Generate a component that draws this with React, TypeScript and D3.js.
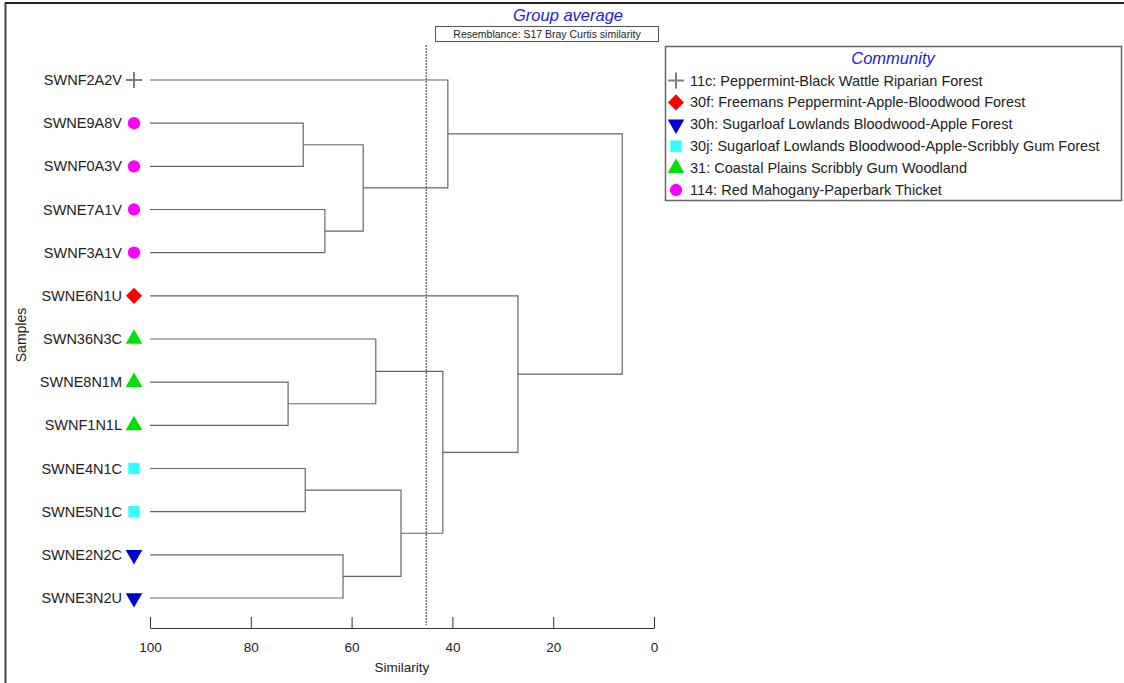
import React, { useEffect, useRef } from "react";
import * as d3 from "d3";

// leaf order, top to bottom
const samples = [
  "SWNF2A2V", "SWNE9A8V", "SWNF0A3V", "SWNE7A1V", "SWNF3A1V", "SWNE6N1U",
  "SWN36N3C", "SWNE8N1M", "SWNF1N1L", "SWNE4N1C", "SWNE5N1C", "SWNE2N2C", "SWNE3N2U",
];
const sampleCommunity = [
  "11c", "114", "114", "114", "114", "30f", "31", "31", "31", "30j", "30j", "30h", "30h",
];

const communities = ["11c", "30f", "30h", "30j", "31", "114"];
const communityNames = [
  "11c: Peppermint-Black Wattle Riparian Forest",
  "30f: Freemans Peppermint-Apple-Bloodwood Forest",
  "30h: Sugarloaf Lowlands Bloodwood-Apple Forest",
  "30j: Sugarloaf Lowlands Bloodwood-Apple-Scribbly Gum Forest",
  "31: Coastal Plains Scribbly Gum Woodland",
  "114: Red Mahogany-Paperbark Thicket",
];
const communityColors = ["#808080", "#ff0000", "#0000d0", "#33ffff", "#00e000", "#ff00ff"];
const communityShapes = ["cross", "diamond", "triDown", "square", "triUp", "circle"];

// linkage: [left node, right node, similarity]; leaves are 0..12, new clusters 13..
const merges: [number, number, number][] = [
  [1, 2, 69.6],
  [3, 4, 65.3],
  [13, 14, 57.7],
  [0, 15, 40.9],
  [7, 8, 72.6],
  [6, 17, 55.2],
  [9, 10, 69.2],
  [11, 12, 61.7],
  [19, 20, 50.2],
  [18, 21, 41.9],
  [5, 22, 27.0],
  [16, 23, 6.3],
];
const cutLevel = 45.2;
const xTicks = [100, 80, 60, 40, 20, 0];

const W = 1124;
const H = 683;
const FONT = "'Liberation Sans', Arial, sans-serif";

function symbolPath(shape: string) {
  switch (shape) {
    case "cross":
      return "M-8,0H8M0,-8V8";
    case "diamond":
    case "square":
      return d3.symbol(d3.symbolSquare, 130)()!;
    case "triDown":
    case "triUp":
      return d3.symbol(d3.symbolTriangle, 120)()!;
    default:
      return d3.symbol(d3.symbolCircle, 120)()!;
  }
}

function drawMarker(g: any, shape: string, color: string, x: number, y: number) {
  const rot = shape === "diamond" ? 45 : shape === "triDown" ? 180 : 0;
  const p = g
    .append("path")
    .attr("d", symbolPath(shape))
    .attr("transform", `translate(${x},${y}) rotate(${rot})`);
  if (shape === "cross") {
    p.attr("fill", "none").attr("stroke", color).attr("stroke-width", 2);
  } else {
    p.attr("fill", color);
  }
}

export default function App() {
  const svgRef = useRef<SVGSVGElement>(null);

  useEffect(() => {
    const svg = d3.select(svgRef.current);
    svg.selectAll("*").remove();

    const x = d3.scaleLinear().domain([100, 0]).range([150, 654]);
    const y = d3.scalePoint<string>().domain(samples).range([80, 598]);
    const axisY = 628;

    // build nested tree from linkage
    const nodes: any[] = samples.map((s, i) => ({ name: s, idx: i, sim: 100 }));
    merges.forEach(([a, b, s]) => {
      nodes.push({ children: [nodes[a], nodes[b]], sim: s });
    });
    const root = d3.hierarchy(nodes[nodes.length - 1]);
    root.eachAfter((n: any) => {
      n.px = x(n.data.sim);
      n.py = n.children
        ? (n.children[0].py + n.children[n.children.length - 1].py) / 2
        : y(n.data.name)!;
    });

    // frame
    svg.append("line").attr("x1", 5.5).attr("x2", 5.5).attr("y1", 2).attr("y2", H)
      .attr("stroke", "#444").attr("stroke-width", 2);
    svg.append("line").attr("x1", 5).attr("x2", W).attr("y1", 3).attr("y2", 3)
      .attr("stroke", "#222").attr("stroke-width", 2);

    // titles
    svg.append("text").attr("x", 568).attr("y", 21).attr("text-anchor", "middle")
      .attr("font-family", FONT).attr("font-size", 16.5).attr("font-style", "italic")
      .attr("fill", "#2020e0").text("Group average");
    svg.append("rect").attr("x", 435.5).attr("y", 26.5).attr("width", 223).attr("height", 15)
      .attr("fill", "#fff").attr("stroke", "#555");
    svg.append("text").attr("x", 547).attr("y", 38).attr("text-anchor", "middle")
      .attr("font-family", FONT).attr("font-size", 10.5).attr("fill", "#222")
      .text("Resemblance: S17 Bray Curtis similarity");

    // cut line
    svg.append("line").attr("x1", x(cutLevel)).attr("x2", x(cutLevel))
      .attr("y1", 45).attr("y2", axisY - 3)
      .attr("stroke", "#333").attr("stroke-width", 1).attr("stroke-dasharray", "2,1");

    // dendrogram branches
    const g = svg.append("g").attr("stroke", "#666").attr("stroke-width", 1.2).attr("fill", "none");
    root.each((n: any) => {
      if (!n.children) return;
      const c0 = n.children[0];
      const c1 = n.children[n.children.length - 1];
      g.append("path").attr("d", `M${c0.px},${c0.py}H${n.px}V${c1.py}H${c1.px}`);
    });

    // leaves
    samples.forEach((s, i) => {
      const ci = communities.indexOf(sampleCommunity[i]);
      const yy = y(s)!;
      svg.append("text").attr("x", 122).attr("y", yy).attr("dy", "0.35em")
        .attr("text-anchor", "end").attr("font-family", FONT).attr("font-size", 14.5)
        .attr("fill", "#222").text(s);
      drawMarker(svg, communityShapes[ci], communityColors[ci], 134, yy);
    });

    // axis
    const axis = d3.axisBottom(x).tickValues(xTicks).tickSizeInner(-11).tickSizeOuter(0).tickPadding(14);
    const ag = svg.append("g").attr("transform", `translate(0,${axisY})`).call(axis as any);
    ag.select(".domain").attr("stroke", "#333");
    ag.selectAll(".tick line").attr("stroke", "#333");
    ag.selectAll(".tick text").attr("font-family", FONT).attr("font-size", 13.5).attr("fill", "#222");

    svg.append("text").attr("x", x(50)).attr("y", 672).attr("text-anchor", "middle")
      .attr("font-family", FONT).attr("font-size", 13.5).attr("fill", "#222").text("Similarity");
    svg.append("text").attr("transform", "translate(26,335) rotate(-90)")
      .attr("text-anchor", "middle").attr("font-family", FONT).attr("font-size", 14)
      .attr("fill", "#222").text("Samples");

    // legend
    const lg = svg.append("g");
    lg.append("rect").attr("x", 665.5).attr("y", 46.5).attr("width", 456).attr("height", 154)
      .attr("fill", "#fff").attr("stroke", "#666").attr("stroke-width", 1.5);
    lg.append("text").attr("x", 893).attr("y", 64).attr("text-anchor", "middle")
      .attr("font-family", FONT).attr("font-size", 16.5).attr("font-style", "italic")
      .attr("fill", "#2020e0").text("Community");
    communities.forEach((c, i) => {
      const yy = 80.5 + i * 21.9;
      drawMarker(lg, communityShapes[i], communityColors[i], 676, yy);
      lg.append("text").attr("x", 690).attr("y", yy).attr("dy", "0.35em")
        .attr("font-family", FONT).attr("font-size", 14.5).attr("fill", "#222")
        .text(communityNames[i]);
    });
  }, []);

  return (
    <svg
      ref={svgRef}
      width={W}
      height={H}
      style={{ position: "absolute", left: 0, top: 0, background: "#fff" }}
    />
  );
}
